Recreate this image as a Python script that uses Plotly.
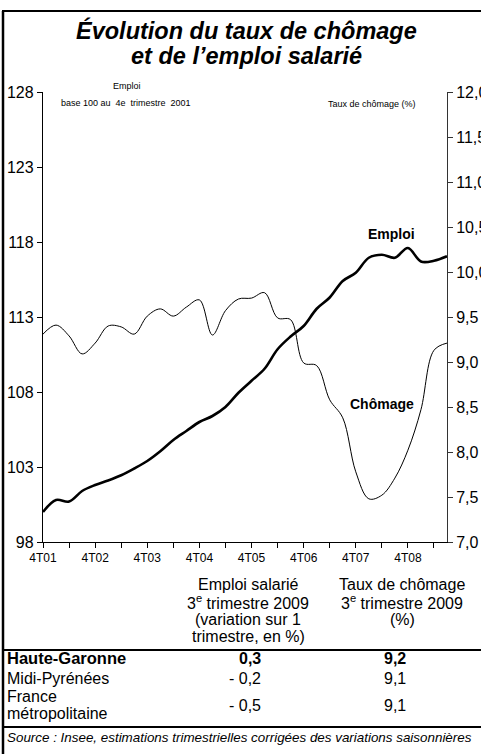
import plotly.graph_objects as go

# ---- data ----
quarters = ["4T01", "1T02", "2T02", "3T02", "4T02", "1T03", "2T03", "3T03",
            "4T03", "1T04", "2T04", "3T04", "4T04", "1T05", "2T05", "3T05",
            "4T05", "1T06", "2T06", "3T06", "4T06", "1T07", "2T07", "3T07",
            "4T07", "1T08", "2T08", "3T08", "4T08", "1T09", "2T09", "3T09"]

emploi = [100.0, 100.8, 100.7, 101.4, 101.8, 102.1, 102.45, 102.9,
          103.4, 104.05, 104.8, 105.4, 106.0, 106.4, 107.0, 107.95,
          108.75, 109.55, 110.85, 111.7, 112.4, 113.55, 114.3, 115.4,
          115.95, 116.95, 117.15, 116.95, 117.6, 116.7, 116.75, 117.05]

chomage = [9.31, 9.41, 9.29, 9.09, 9.21, 9.40, 9.39, 9.31,
           9.51, 9.59, 9.51, 9.61, 9.69, 9.30, 9.57, 9.70,
           9.71, 9.77, 9.49, 9.47, 8.99, 8.96, 8.58, 8.38,
           7.78, 7.48, 7.52, 7.71, 8.02, 8.47, 9.13, 9.21]

left_ticks = [98, 103, 108, 113, 118, 123, 128]
right_ticks = [7.0, 7.5, 8.0, 8.5, 9.0, 9.5, 10.0, 10.5, 11.0, 11.5, 12.0]

regions = ["Haute-Garonne", "Midi-Pyrénées", "France<br>métropolitaine"]
emploi_var = [0.3, -0.2, -0.5]
chomage_3t09 = [9.2, 9.1, 9.1]

FONT = "Arial, Liberation Sans, sans-serif"

# ---- layout geometry (pixels) ----
W, H = 481, 754
L, R, T, B = 43, 447, 92, 542


def px(x):
    return (x - L) / (R - L)


def py(y):
    return (B - y) / (B - T)


def fr(v):
    s = f"{abs(v):.1f}".replace(".", ",")
    return ("- " + s) if v < 0 else s


xi = list(range(len(quarters)))
major = [i for i, q in enumerate(quarters) if q.startswith("4T")]
minor = [i for i in range(0, len(quarters), 2) if i not in major]

fig = go.Figure()
fig.add_trace(go.Scatter(x=xi, y=emploi, mode="lines", yaxis="y",
                         line=dict(color="black", width=2.6, shape="spline"),
                         showlegend=False, hoverinfo="skip"))
fig.add_trace(go.Scatter(x=xi, y=chomage, mode="lines", yaxis="y2",
                         line=dict(color="black", width=1, shape="spline"),
                         showlegend=False, hoverinfo="skip"))

fig.update_layout(
    width=W, height=H,
    margin=dict(l=L, r=W - R, t=T, b=H - B, pad=0, autoexpand=False),
    paper_bgcolor="white", plot_bgcolor="white",
    separators=", ",
    font=dict(family=FONT, color="black"),
    xaxis=dict(range=[0, len(quarters) - 1], automargin=False,
               tickmode="array", tickvals=major,
               ticktext=[quarters[i] for i in major],
               ticks="outside", ticklen=5, tickcolor="black",
               minor=dict(tickmode="array", tickvals=minor, ticks="outside",
                          ticklen=5, tickcolor="black", showgrid=False),
               showline=True, linecolor="black", linewidth=1,
               showgrid=False, zeroline=False,
               tickfont=dict(size=12, family=FONT)),
    yaxis=dict(range=[98, 128], tickvals=left_ticks, automargin=False,
               ticks="outside", ticklen=5, tickcolor="black",
               showline=True, linecolor="black", linewidth=1.3,
               showgrid=False, zeroline=False,
               tickfont=dict(size=16, family=FONT)),
    yaxis2=dict(range=[7, 12], tickvals=right_ticks, tickformat=".1f",
                overlaying="y", side="right", automargin=False,
                ticks="outside", ticklen=5, tickcolor="#333",
                showline=True, linecolor="#333", linewidth=1,
                showgrid=False, zeroline=False,
                tickfont=dict(size=16, family=FONT)),
    yaxis3=dict(range=[7, 12], tickvals=right_ticks, automargin=False,
                overlaying="y", side="right", anchor="x",
                ticks="inside", ticklen=5, tickcolor="#333",
                showticklabels=False, showline=False,
                showgrid=False, zeroline=False),
)

ann = []


def add(text, x, y, size, xanchor="center", bold=False, italic=False):
    t = text
    if bold:
        t = "<b>" + t + "</b>"
    if italic:
        t = "<i>" + t + "</i>"
    ann.append(dict(text=t, x=px(x), y=py(y), xref="paper", yref="paper",
                    xanchor=xanchor, yanchor="middle", showarrow=False,
                    font=dict(size=size, family=FONT, color="black")))


# title
add("Évolution du taux de chômage", 246, 30, 23.5, bold=True, italic=True)
add("et de l’emploi salarié", 246, 56, 23.5, bold=True, italic=True)

# axis captions
add("Emploi", 127, 86, 9)
add("base 100 au  4e  trimestre  2001", 126, 103, 9)
add("Taux de chômage (%)", 418, 104, 9, xanchor="right")

# series labels
add("Emploi", 391, 234, 14, bold=True)
add("Chômage", 382, 404, 14, bold=True)

# table header
h1 = ["Emploi salarié", "3<sup>e</sup> trimestre 2009", "(variation sur 1",
      "trimestre, en %)"]
h2 = ["Taux de chômage", "3<sup>e</sup> trimestre 2009", "(%)"]
hy = [584, 602, 619, 636]
for t, y in zip(h1, hy):
    add(t, 248, y, 16)
for t, y in zip(h2, hy):
    add(t, 402, y, 16)

# table rows
row_y = [658, 678, 705]
for i, (reg, ev, cr) in enumerate(zip(regions, emploi_var, chomage_3t09)):
    bold = (i == 0)
    if "<br>" in reg:
        a, b = reg.split("<br>")
        add(a, 5, row_y[i] - 9, 16, xanchor="left", bold=bold)
        add(b, 5, row_y[i] + 8, 16, xanchor="left", bold=bold)
    else:
        add(reg, 5, row_y[i], 16.5 if bold else 16, xanchor="left", bold=bold)
    add(fr(ev), 263, row_y[i], 16, xanchor="right", bold=bold)
    add(fr(cr), 395, row_y[i], 16, bold=bold)

add("Source : Insee, estimations trimestrielles corrigées des variations saisonnières",
    5, 737, 13.4, xanchor="left", italic=True)

fig.update_layout(annotations=ann)

# frame lines
shapes = []


def hline(y, x0, x1, w):
    shapes.append(dict(type="line", xref="paper", yref="paper",
                       x0=px(x0), x1=px(x1), y0=py(y), y1=py(y),
                       line=dict(color="black", width=w)))


def vline(x, y0, y1, w):
    shapes.append(dict(type="line", xref="paper", yref="paper",
                       x0=px(x), x1=px(x), y0=py(y0), y1=py(y1),
                       line=dict(color="black", width=w)))


vline(3, 11, 760, 2.5)
hline(11, 2, 490, 2)
hline(650, 2, 490, 2)
hline(727, 2, 490, 2)
fig.update_layout(shapes=shapes)

fig.write_html("out.html",
               config={"displayModeBar": False},
               post_script="document.body.style.margin='0';"
                           "document.body.style.overflow='hidden';")
